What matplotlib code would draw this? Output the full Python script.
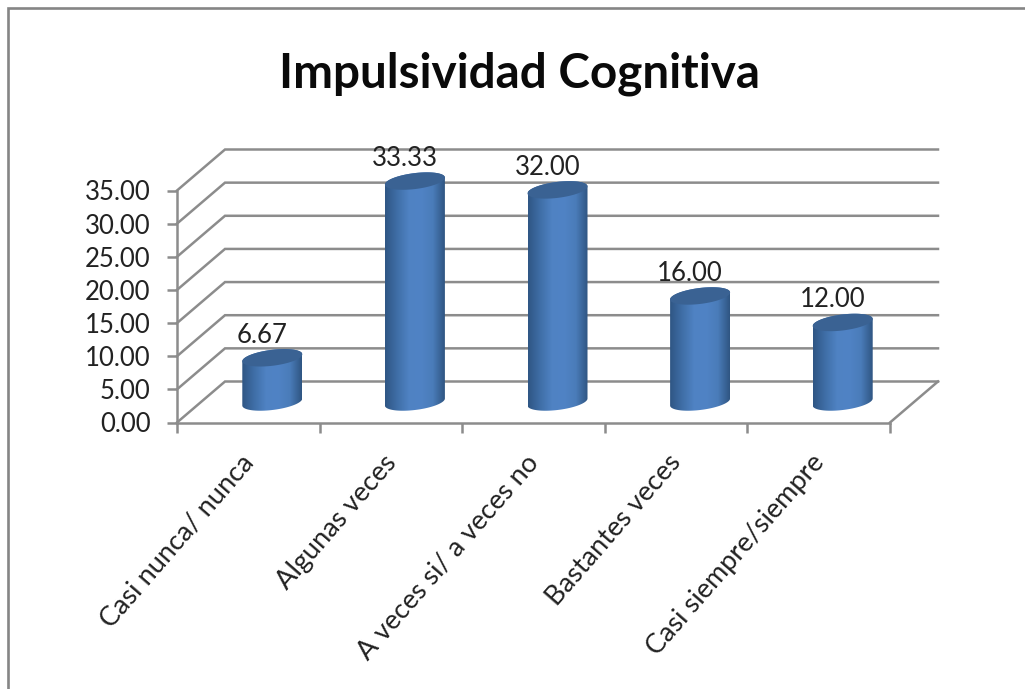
import numpy as np
import matplotlib
matplotlib.use("Agg")
import matplotlib.pyplot as plt
from matplotlib.patches import Polygon
from matplotlib.lines import Line2D
from matplotlib.colors import LinearSegmentedColormap

categories = ["Casi nunca/ nunca", "Algunas veces", "A veces si/ a veces no",
              "Bastantes veces", "Casi siempre/siempre"]
values = [6.67, 33.33, 32.00, 16.00, 12.00]
yticks = [0, 5, 10, 15, 20, 25, 30, 35]
title = "Impulsividad Cognitiva"

W, H = 1025, 689
plt.rcParams['font.family'] = ['Lato', 'DejaVu Sans']
fig = plt.figure(figsize=(W / 100, H / 100), dpi=100, facecolor='white')

# chart frame (top and left only are visible)
GREY = '#8c8c8c'
fig.add_artist(Line2D([8 / W, 8 / W, 1], [0, 1 - 8 / H, 1 - 8 / H], color='#858585', lw=1.9,
                      transform=fig.transFigure, solid_capstyle='butt', solid_joinstyle='miter'))

# axes = front plane of the 3-D box
L, R, T, B = 177, 890, 190.5, 422.5
ax = fig.add_axes([L / W, 1 - B / H, (R - L) / W, (B - T) / H])
ax.set_xlim(-0.5, 4.5)
ax.set_ylim(0, 35)
ax.patch.set_visible(False)
px = (R - L) / 5           # pixels per category
py = (B - T) / 35          # pixels per value unit
ddx, ddy = 48 / px, 41 / py  # depth of the box in data units

# floor + walls gridlines
for v in yticks:
    ax.plot([-0.5, -0.5 + ddx, 4.5 + ddx], [v, v + ddy, v + ddy], color=GREY, lw=1.8,
            clip_on=False, zorder=1, solid_joinstyle='miter')
ax.plot([4.5, 4.5 + ddx], [0, ddy], color=GREY, lw=1.8, clip_on=False, zorder=1)

for s in ['top', 'right']:
    ax.spines[s].set_visible(False)
for s in ['left', 'bottom']:
    ax.spines[s].set_color(GREY)
    ax.spines[s].set_linewidth(1.8)
ax.set_yticks(yticks)
ax.set_yticklabels([f"{v:.2f}" for v in yticks], fontsize=18.5, color='#222222')
ax.set_xticks(np.arange(-0.5, 5, 1))
ax.set_xticklabels([])
ax.tick_params(axis='both', color=GREY, width=1.8, length=7, direction='out')
ax.tick_params(axis='y', pad=12)

cmap = LinearSegmentedColormap.from_list('cyl', ['#2f5684', '#3f6ea6', '#4f82c3', '#5083c5',
                                                 '#4a7cb9', '#2f5582'])
grad = np.linspace(0, 1, 256).reshape(1, -1)
hw = 30 / px               # half width of cylinder
minor = 8.0 / py           # ellipse half-height
shear = 3.5 / py           # tilt of ellipse
t = np.linspace(0, 2 * np.pi, 120)
zb = 4

for i, v in enumerate(values):
    cx = i + ddx / 2
    base = ddy / 2
    top = base + v
    ex = cx + hw * np.cos(t)
    # body outline: lower half of base ellipse, upper half of top ellipse
    t1 = np.linspace(np.pi, 2 * np.pi, 60)
    t2 = np.linspace(0, np.pi, 60)
    xs = np.r_[cx + hw * np.cos(t1), cx + hw * np.cos(t2)]
    ys = np.r_[base + minor * np.sin(t1) + shear * np.cos(t1),
               top + minor * np.sin(t2) + shear * np.cos(t2)]
    poly = Polygon(np.c_[xs, ys], closed=True, transform=ax.transData,
                   fc='none', ec='none', clip_on=False)
    ax.add_patch(poly)
    im = ax.imshow(grad, cmap=cmap, aspect='auto', extent=(cx - hw, cx + hw, base - 2, top + 2),
                   zorder=zb, interpolation='bilinear')
    im.set_clip_path(poly)
    im.set_clip_box(fig.bbox)
    ax.add_patch(Polygon(np.c_[ex, top + minor * np.sin(t) + shear * np.cos(t)], closed=True,
                         fc='#3a6293', ec='none', zorder=zb + 1, clip_on=False))
    ax.annotate(f"{v:.2f}", (cx, top), xytext=(-7.3, 7.2), textcoords='offset points',
                ha='center', va='bottom', fontsize=18.5, color='#222222', zorder=zb + 2,
                annotation_clip=False)
    ax.annotate(categories[i], (i - 0.06, 0), xytext=(0, -20), textcoords='offset points',
                rotation=49, rotation_mode='anchor', ha='right', va='top', fontsize=19.5,
                color='#222222', annotation_clip=False)

ax.set_xlim(-0.5, 4.5)
ax.set_ylim(0, 35)

fig.text(519.5 / W, 1 - 87 / H, title, ha='center', va='baseline', fontsize=34.3,
         fontweight='bold', color='#0a0a0a')

fig.savefig('out.png', dpi=100, facecolor='white')
